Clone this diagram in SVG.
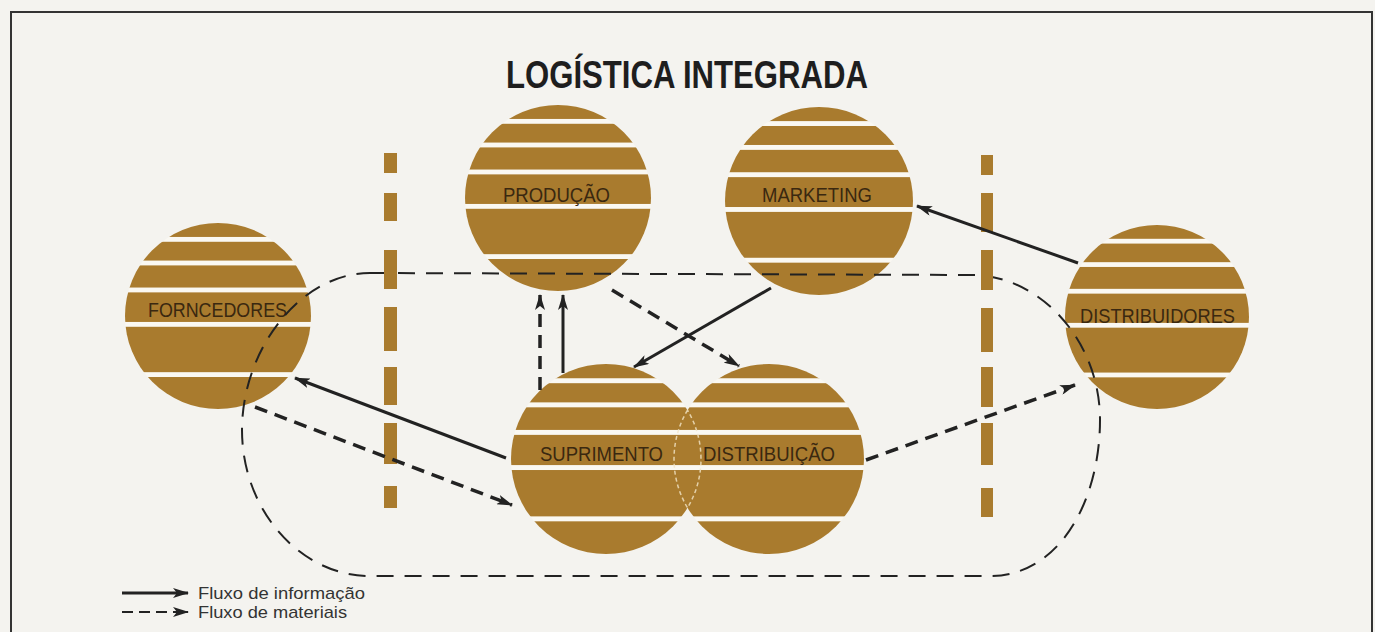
<svg xmlns="http://www.w3.org/2000/svg" width="1375" height="632" viewBox="0 0 1375 632">
<style>
.lbl{font-family:"Liberation Sans Narrow","Liberation Sans",Arial,sans-serif;font-size:21px;fill:#3a2810}
.title{font-family:"Liberation Sans Narrow","Liberation Sans",Arial,sans-serif;font-size:38px;font-weight:bold;fill:#1e1e1e}
.leg{font-family:"Liberation Sans",Arial,sans-serif;font-size:17px;fill:#333}
.info{fill:none;stroke:#222;stroke-width:3;marker-end:url(#ah)}
.mat{fill:none;stroke:#222;stroke-width:3.5;stroke-dasharray:13 8;marker-end:url(#ah)}
.loop{fill:none;stroke:#222;stroke-width:2;stroke-dasharray:17 11}
.bar{fill:#a97b2e}
.disc{fill:url(#stripes)}
</style>
<defs>
<pattern id="stripes" patternContentUnits="objectBoundingBox" width="1" height="1">
<rect width="1" height="1" fill="#a97b2e"/>
<rect y="0.075" width="1" height="0.026" fill="#faf8f2"/>
<rect y="0.202" width="1" height="0.026" fill="#faf8f2"/>
<rect y="0.347" width="1" height="0.026" fill="#faf8f2"/>
<rect y="0.532" width="1" height="0.026" fill="#faf8f2"/>
<rect y="0.802" width="1" height="0.026" fill="#faf8f2"/>
</pattern>
<marker id="ah" viewBox="0 0 16 10" refX="15" refY="5" markerWidth="16" markerHeight="10" markerUnits="userSpaceOnUse" orient="auto">
<path d="M0,0 L16,5 L0,10 L4,5 z" fill="#222"/>
</marker>
</defs>
<rect width="1375" height="632" fill="#f4f3ef"/>
<path d="M11,632 L11,12 L1372,12 L1372,632" fill="none" stroke="#333" stroke-width="2"/>
<text class="title" x="506" y="88" textLength="362" lengthAdjust="spacingAndGlyphs">LOGÍSTICA INTEGRADA</text>

<g id="node-forncedores">
<circle class="disc" cx="218" cy="316" r="93"/>
<text class="lbl" x="148" y="317" textLength="139" lengthAdjust="spacingAndGlyphs">FORNCEDORES</text>
</g>
<g id="node-producao">
<circle class="disc" cx="558" cy="198" r="93"/>
<text class="lbl" x="503" y="202" textLength="107" lengthAdjust="spacingAndGlyphs">PRODUÇÃO</text>
</g>
<g id="node-marketing">
<circle class="disc" cx="819" cy="201" r="94"/>
<text class="lbl" x="762" y="202" textLength="110" lengthAdjust="spacingAndGlyphs">MARKETING</text>
</g>
<g id="node-distribuidores">
<circle class="disc" cx="1157" cy="317" r="92"/>
<text class="lbl" x="1080" y="323" textLength="155" lengthAdjust="spacingAndGlyphs">DISTRIBUIDORES</text>
</g>
<g id="node-suprimento">
<circle class="disc" cx="606" cy="459" r="95"/>
<text class="lbl" x="540" y="461" textLength="123" lengthAdjust="spacingAndGlyphs">SUPRIMENTO</text>
</g>
<g id="node-distribuicao">
<circle class="disc" cx="769" cy="459" r="95"/>
<path d="M687.5,410.2 A95,95 0 0 0 687.5,507.8 A95,95 0 0 0 687.5,410.2 Z" fill="none" stroke="#f3e6c8" stroke-width="1.5" stroke-dasharray="4 3" opacity="0.8"/>
<text class="lbl" x="703" y="461" textLength="132" lengthAdjust="spacingAndGlyphs">DISTRIBUIÇÃO</text>
</g>

<g id="connectors">
<path class="loop" d="M370,273 L975,275 C1040,277 1100,340 1100,420 C1100,500 1060,576 990,576 L370,576 C300,576 242,510 242,430 C242,350 300,273 370,273 Z"/>
<g id="dividers">
<rect class="bar" x="384" y="153" width="13" height="20"/>
<rect class="bar" x="384" y="193" width="13" height="28"/>
<rect class="bar" x="384" y="250" width="13" height="39"/>
<rect class="bar" x="384" y="307" width="13" height="44"/>
<rect class="bar" x="384" y="367" width="13" height="38"/>
<rect class="bar" x="384" y="423" width="13" height="41"/>
<rect class="bar" x="384" y="486" width="13" height="22"/>
<rect class="bar" x="981" y="155" width="12" height="20"/>
<rect class="bar" x="981" y="193" width="12" height="39"/>
<rect class="bar" x="981" y="250" width="12" height="40"/>
<rect class="bar" x="981" y="308" width="12" height="44"/>
<rect class="bar" x="981" y="367" width="12" height="40"/>
<rect class="bar" x="981" y="423" width="12" height="42"/>
<rect class="bar" x="981" y="488" width="12" height="29"/>
</g>
<path class="info" d="M1078,263 L917,206"/>
<path class="info" d="M771,288 L634,367"/>
<path class="info" d="M563,373 L563,295"/>
<path class="info" d="M506,458 L295,378"/>
<path class="mat" d="M540,390 L540,295"/>
<path class="mat" d="M612,290 L739,366"/>
<path class="mat" d="M255,407 L512,505"/>
<path class="mat" d="M866,460 L1075,385"/>
</g>

<g id="legend">
<path class="info" d="M122,593 L188,593"/>
<path d="M122,612 L174,612" fill="none" stroke="#222" stroke-width="2" stroke-dasharray="11 6"/>
<path class="info" d="M174,612 L188,612" style="stroke-width:2"/>
<text class="leg" x="198" y="599" textLength="167" lengthAdjust="spacingAndGlyphs">Fluxo de informação</text>
<text class="leg" x="198" y="618" textLength="149" lengthAdjust="spacingAndGlyphs">Fluxo de materiais</text>
</g>
</svg>
